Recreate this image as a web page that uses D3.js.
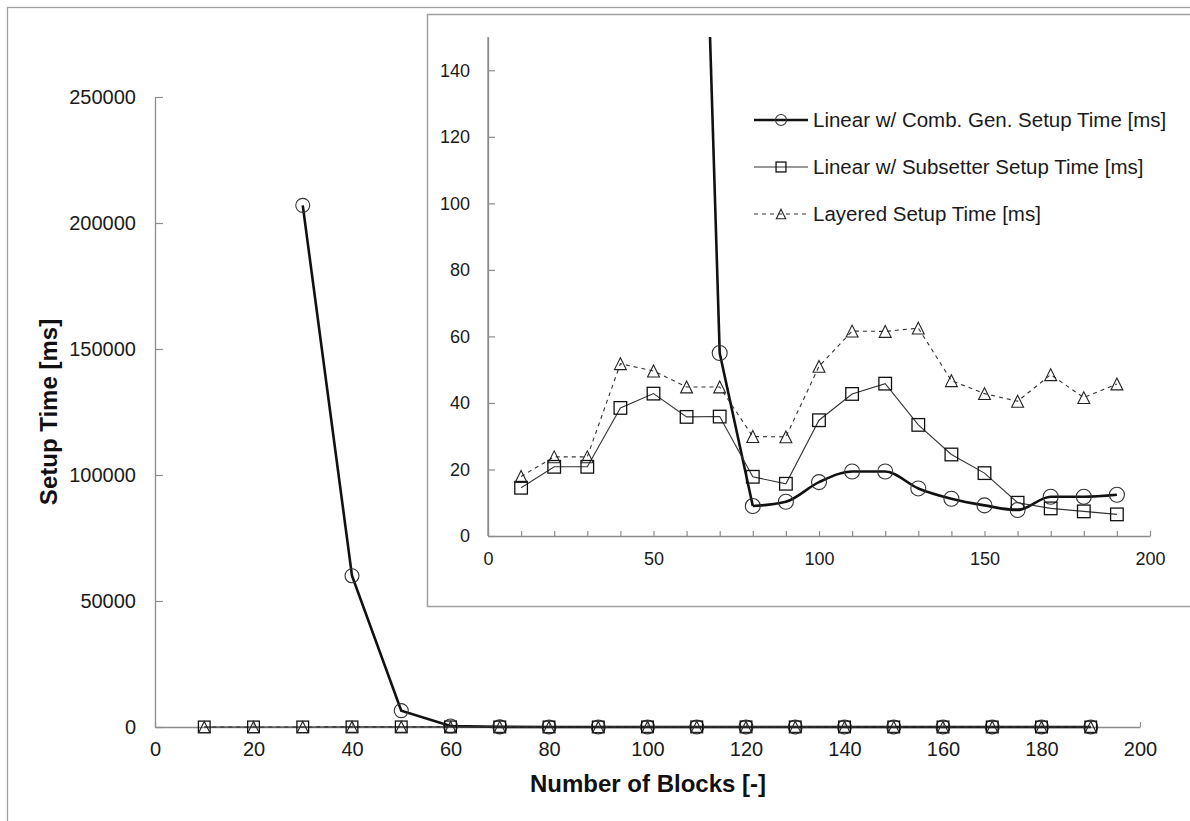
<!DOCTYPE html>
<html lang="en">

<head>
    <meta charset="UTF-8">
    <title>Setup Time vs Number of Blocks</title>
    <script src="https://cdn.jsdelivr.net/npm/d3@7"></script>
    <style>
        body { margin: 0; background: #fff; }
        text { font-family: "Liberation Sans", Arial, sans-serif; }
    </style>
</head>

<body>
    <div id="chart"></div>
    <script>
        // values
        var blocks = [10, 20, 30, 40, 50, 60, 70, 80, 90, 100, 110, 120, 130, 140, 150, 160, 170, 180, 190]
        var combGen = [null, null, 207000, 60000, 6500, 380, 55, 9, 10.3, 16.2, 19.4, 19.4, 14.3, 11.2, 9.2, 7.8, 11.8, 11.8, 12.4]
        var subsetter = [14.5, 20.8, 20.8, 38.5, 42.8, 35.8, 35.9, 17.8, 15.7, 34.8, 42.7, 45.8, 33.4, 24.5, 18.9, 10, 8.3, 7.4, 6.5]
        var layered = [17.9, 23.8, 23.8, 51.8, 49.6, 44.8, 44.8, 29.9, 29.8, 51, 61.6, 61.5, 62.5, 46.7, 42.8, 40.5, 48.5, 41.6, 45.7]
        var seriesNames = ["Linear w/ Comb. Gen. Setup Time [ms]", "Linear w/ Subsetter Setup Time [ms]", "Layered Setup Time [ms]"]
        var mainXTicks = [0, 20, 40, 60, 80, 100, 120, 140, 160, 180, 200]
        var mainYTicks = [0, 50000, 100000, 150000, 200000, 250000]
        var insetXTicks = [0, 10, 20, 30, 40, 50, 60, 70, 80, 90, 100, 110, 120, 130, 140, 150, 160, 170, 180, 190, 200]
        var insetYTicks = [0, 20, 40, 60, 80, 100, 120, 140]

        var W = 1190, H = 821
        var axisColor = "#8c8c8c"
        var svg = d3.select("#chart").append("svg").attr("width", W).attr("height", H)

        var series = [
            { name: seriesNames[0], values: combGen, marker: "circle", width: 2.6, dash: null, color: "#111" },
            { name: seriesNames[1], values: subsetter, marker: "square", width: 1.1, dash: null, color: "#333" },
            { name: seriesNames[2], values: layered, marker: "triangle", width: 1.1, dash: "4,4", color: "#333" }
        ]

        function points(s) {
            return blocks.map((b, i) => ({ x: b, y: s.values[i] })).filter(d => d.y != null)
        }

        function drawMarker(g, type, x, y, size) {
            if (type == "circle")
                return g.append("circle").attr("cx", x).attr("cy", y).attr("r", size / 2)
                    .attr("fill", "none").attr("stroke", "#333").attr("stroke-width", 1.1)
            if (type == "square")
                return g.append("rect").attr("x", x - size * 0.45).attr("y", y - size * 0.45)
                    .attr("width", size * 0.9).attr("height", size * 0.9)
                    .attr("fill", "none").attr("stroke", "#111").attr("stroke-width", 1.3)
            var h = size * 0.85, w = size * 0.85
            return g.append("path")
                .attr("d", `M${x},${y - h / 2}L${x + w / 2},${y + h / 2}L${x - w / 2},${y + h / 2}Z`)
                .attr("fill", "none").attr("stroke", "#222").attr("stroke-width", 1.1)
        }

        function styleAxis(g, fontSize) {
            g.select(".domain").attr("stroke", axisColor).attr("stroke-width", 1.3)
            g.selectAll(".tick line").attr("stroke", axisColor).attr("stroke-width", 1.2)
            g.selectAll(".tick text").attr("fill", "#1a1a1a").style("font-size", fontSize + "px")
                .style("font-family", '"Liberation Sans", Arial, sans-serif')
        }

        // outer frame
        svg.append("rect").attr("x", 7.5).attr("y", 7.5).attr("width", W + 20).attr("height", H + 20)
            .attr("fill", "#fff").attr("stroke", "#a0a0a0").attr("stroke-width", 1.3)

        // ---- main chart ----
        var x = d3.scaleLinear().domain([0, 200]).range([155, 1140])
        var y = d3.scaleLinear().domain([0, 250000]).range([727, 97])

        svg.append("g").attr("transform", `translate(0,${y(0)})`)
            .call(d3.axisBottom(x).tickValues(mainXTicks).tickSizeInner(-5).tickSizeOuter(0).tickPadding(15))
            .call(g => styleAxis(g, 20))
        svg.append("g").attr("transform", `translate(${x(0)},0)`)
            .call(d3.axisLeft(y).tickValues(mainYTicks).tickFormat(d3.format("d")).tickSizeInner(-8).tickSizeOuter(0).tickPadding(19))
            .call(g => styleAxis(g, 20))

        svg.append("text").attr("x", 648).attr("y", 792).attr("text-anchor", "middle")
            .attr("font-size", 24).attr("font-weight", "bold").attr("fill", "#111").text("Number of Blocks [-]")
        svg.append("text").attr("transform", "translate(57,412) rotate(-90)").attr("text-anchor", "middle")
            .attr("font-size", 24).attr("font-weight", "bold").attr("fill", "#111").text("Setup Time [ms]")

        var mainG = svg.append("g")
        series.forEach(s => {
            var line = d3.line().x(d => x(d.x)).y(d => y(d.y))
            mainG.append("path").attr("d", line(points(s))).attr("fill", "none")
                .attr("stroke", s.color).attr("stroke-width", s.width).attr("stroke-dasharray", s.dash)
        })
        series.forEach(s => {
            points(s).forEach(d => drawMarker(mainG, s.marker, x(d.x), y(d.y), s.marker == "circle" ? 14 : 13))
        })

        // ---- inset chart ----
        svg.append("rect").attr("x", 427.5).attr("y", 14.5).attr("width", 800).attr("height", 592)
            .attr("fill", "#fff").attr("stroke", "#a0a0a0").attr("stroke-width", 1.5)

        var ix = d3.scaleLinear().domain([0, 200]).range([488, 1150])
        var iy = d3.scaleLinear().domain([0, 150]).range([536, 37])

        svg.append("g").attr("transform", `translate(0,${iy(0)})`)
            .call(d3.axisBottom(ix).tickValues(insetXTicks).tickFormat(d => d % 50 == 0 ? d : "")
                .tickSizeInner(-5).tickSizeOuter(0).tickPadding(16))
            .call(g => styleAxis(g, 18))
        svg.append("g").attr("transform", `translate(${ix(0)},0)`)
            .call(d3.axisLeft(iy).tickValues(insetYTicks).tickSizeInner(-7).tickSizeOuter(0).tickPadding(18))
            .call(g => styleAxis(g, 18))
        // axis line runs up to 150
        svg.append("line").attr("x1", ix(0)).attr("x2", ix(0)).attr("y1", iy(150)).attr("y2", iy(0))
            .attr("stroke", axisColor).attr("stroke-width", 1.3)

        svg.append("clipPath").attr("id", "insetClip").append("rect")
            .attr("x", ix(0)).attr("y", iy(150)).attr("width", ix(200) - ix(0)).attr("height", iy(0) - iy(150))

        var insetG = svg.append("g").attr("clip-path", "url(#insetClip)")
        series.forEach((s, k) => {
            var pts = points(s)
            var line = d3.line().x(d => ix(d.x)).y(d => iy(d.y))
            if (k == 0) {
                // steep part straight, the low part smoothed as in the original
                var smooth = d3.line().x(d => ix(d.x)).y(d => iy(d.y)).curve(d3.curveMonotoneX)
                insetG.append("path").attr("d", line(pts.filter(d => d.x <= 80))).attr("fill", "none")
                    .attr("stroke", s.color).attr("stroke-width", s.width)
                insetG.append("path").attr("d", smooth(pts.filter(d => d.x >= 80))).attr("fill", "none")
                    .attr("stroke", s.color).attr("stroke-width", s.width)
                return
            }
            insetG.append("path").attr("d", line(pts)).attr("fill", "none")
                .attr("stroke", s.color).attr("stroke-width", s.width).attr("stroke-dasharray", s.dash)
        })
        series.forEach(s => {
            points(s).filter(d => d.y <= 150).forEach(d => drawMarker(insetG, s.marker, ix(d.x), iy(d.y), s.marker == "circle" ? 15 : 14))
        })

        // legend
        var legend = svg.append("g")
        series.forEach((s, i) => {
            var ly = 120 + i * 47
            legend.append("line").attr("x1", 754).attr("x2", 808).attr("y1", ly).attr("y2", ly)
                .attr("stroke", s.color).attr("stroke-width", s.width).attr("stroke-dasharray", s.dash)
            drawMarker(legend, s.marker, 781, ly, 11)
            legend.append("text").attr("x", 813).attr("y", ly + 7).attr("font-size", 20.5)
                .attr("fill", "#1a1a1a").text(s.name)
        })
    </script>
</body>

</html>
